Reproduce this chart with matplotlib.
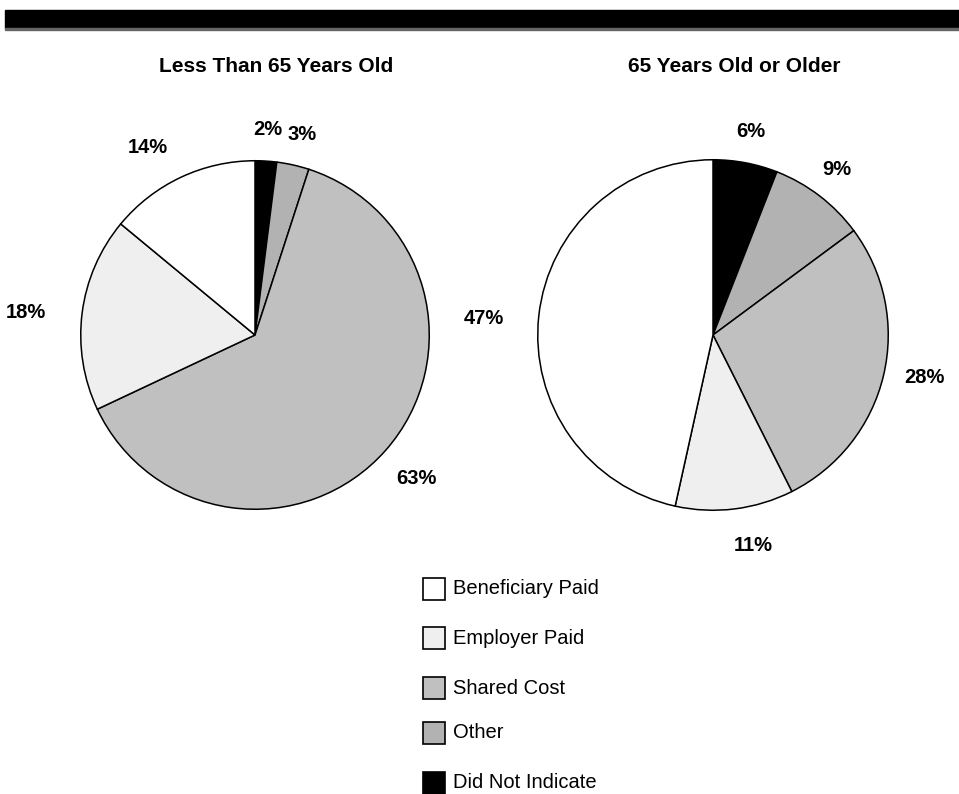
import matplotlib
matplotlib.use("Agg")
import matplotlib.pyplot as plt
from matplotlib.patches import Rectangle
import numpy as np

plt.rcParams['font.family'] = ['Liberation Sans', 'DejaVu Sans']

# ---- data ----
categories = ["Did Not Indicate", "Other", "Shared Cost", "Employer Paid", "Beneficiary Paid"]
under65 = [2, 3, 63, 18, 14]
over65 = [6, 9, 28, 11, 47]
titles = ["Less Than 65 Years Old", "65 Years Old or Older"]
legend_order = ["Beneficiary Paid", "Employer Paid", "Shared Cost", "Other", "Did Not Indicate"]

# ---- styles ----
colors = {"Did Not Indicate": "#000000", "Other": "#b2b2b2", "Shared Cost": "#c0c0c0",
          "Employer Paid": "#efefef", "Beneficiary Paid": "#ffffff"}
# label layout tweaks: (angle nudge in degrees, radial distance)
label_layout = [
    [(0.0, 1.18), (-0.7, 1.185), (-0.2, 1.24), (1.5, 1.32), (4.5, 1.24)],
    [(0.2, 1.18), (0.7, 1.18), (2.0, 1.23), (3.6, 1.22), (2.0, 1.31)],
]

W, H = 959, 794
fig = plt.figure(figsize=(W / 100, H / 100), dpi=100)

# top black band
fig.patches.append(Rectangle((5 / W, 1 - 28 / H), 1 - 5 / W, 18 / H,
                             transform=fig.transFigure, color="black", zorder=5))
fig.patches.append(Rectangle((5 / W, 1 - 29.5 / H), 1 - 5 / W, 1.5 / H,
                             transform=fig.transFigure, color="#666666", zorder=5))

centers = [(255, 335, 176), (713, 335, 177)]
title_x = [276, 734]
datasets = [under65, over65]

for i, (vals, (cx, cy, r)) in enumerate(zip(datasets, centers)):
    ax = fig.add_axes([(cx - r) / W, (H - cy - r) / H, 2 * r / W, 2 * r / H])
    wedges, _ = ax.pie(vals, colors=[colors[c] for c in categories], startangle=90,
                       counterclock=False, radius=1,
                       wedgeprops=dict(edgecolor="black", linewidth=1.1))
    ax.set_xlim(-1.01, 1.01)
    ax.set_ylim(-1.01, 1.01)
    ax.set_aspect("equal")
    ax.axis("off")
    for w, v, (dang, dist) in zip(wedges, vals, label_layout[i]):
        ang = np.deg2rad((w.theta1 + w.theta2) / 2 + dang)
        ax.text(dist * np.cos(ang), dist * np.sin(ang), f"{v}%", ha="center", va="center",
                fontsize=14.5, fontweight="bold", clip_on=False)
    fig.text(title_x[i] / W, 1 - 67 / H, titles[i], ha="center", va="center",
             fontsize=15, fontweight="bold")

# legend
leg_y = [589, 638, 688, 733, 783]
box = 22
for name, y in zip(legend_order, leg_y):
    fig.patches.append(Rectangle((423 / W, (H - y - box / 2) / H), box / W, box / H,
                                 transform=fig.transFigure, facecolor=colors[name],
                                 edgecolor="black", linewidth=1.2))
    fig.text(453 / W, (H - y) / H, name, ha="left", va="center", fontsize=14.5)

fig.savefig("out.png", dpi=100)
